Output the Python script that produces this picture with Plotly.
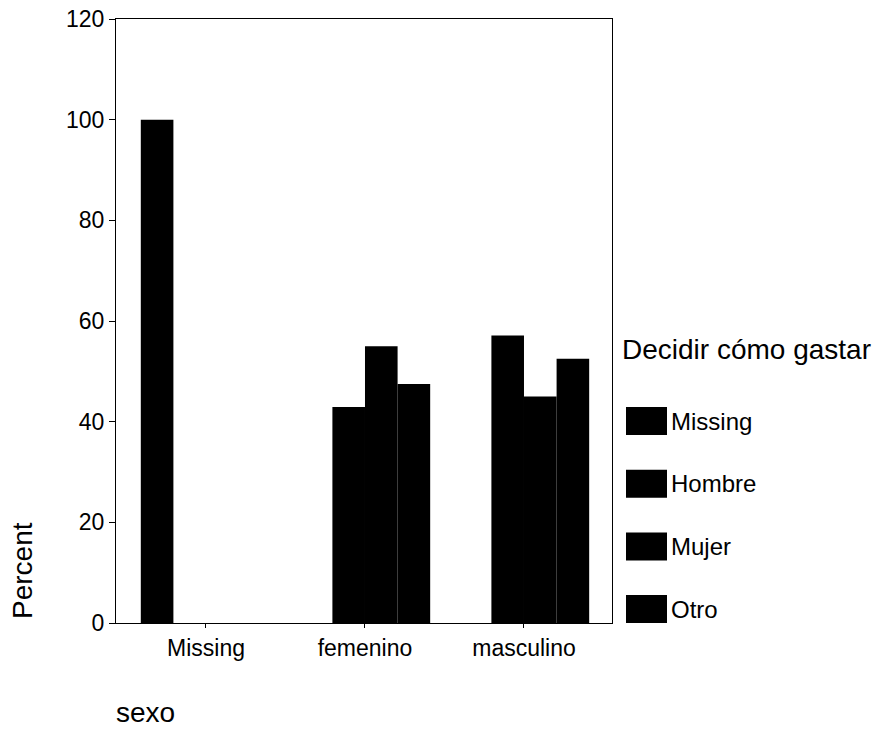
import plotly.graph_objects as go

# ---- data ----
sexo_categories = ["Missing", "femenino", "masculino"]
series_names = ["Missing", "Hombre", "Mujer", "Otro"]
pct_missing = [100, 0, 0]
pct_hombre = [0, 42.9, 57.1]
pct_mujer = [0, 55.0, 45.0]
pct_otro = [0, 47.5, 52.5]
y_ticks = [0, 20, 40, 60, 80, 100, 120]

series_values = [pct_missing, pct_hombre, pct_mujer, pct_otro]

W, H = 888, 733
PLOT_L, PLOT_R, PLOT_T, PLOT_B = 116, 612, 19, 623   # page pixels
ML, MT = PLOT_L, PLOT_T
MR, MB = W - PLOT_R, H - PLOT_B
PW = PLOT_R - PLOT_L
PH = PLOT_B - PLOT_T
FONT = "Liberation Sans, Arial, sans-serif"


def px_x(px):
    return (px - PLOT_L) / PW


def px_y(py):
    return (PLOT_B - py) / PH


fig = go.Figure()
for name, vals in zip(series_names, series_values):
    fig.add_trace(go.Bar(
        x=sexo_categories, y=vals, name=name,
        marker=dict(color="black", line=dict(width=0)),
        showlegend=False,
    ))

# legend drawn manually (large swatches like the original)
shapes = []
annotations = []
legend_top = 407
legend_step = 62.7
for i, name in enumerate(series_names):
    top = legend_top + i * legend_step
    bot = top + 28
    shapes.append(dict(
        type="rect", xref="paper", yref="paper",
        x0=px_x(626), x1=px_x(667), y0=px_y(bot), y1=px_y(top),
        fillcolor="black", line=dict(width=0),
    ))
    annotations.append(dict(
        text=name, xref="paper", yref="paper",
        x=px_x(669), y=px_y((top + bot) / 2),
        xanchor="left", yanchor="middle", showarrow=False,
        font=dict(family=FONT, size=24, color="black"),
    ))

annotations.append(dict(
    text="Decidir cómo gastar", xref="paper", yref="paper",
    x=px_x(620), y=px_y(349), xanchor="left", yanchor="middle",
    showarrow=False, font=dict(family=FONT, size=28, color="black"),
))
annotations.append(dict(
    text="Percent", xref="paper", yref="paper",
    x=px_x(22), y=px_y(571), xanchor="center", yanchor="middle",
    textangle=-90, showarrow=False,
    font=dict(family=FONT, size=28, color="black"),
))
annotations.append(dict(
    text="sexo", xref="paper", yref="paper",
    x=px_x(114), y=px_y(712), xanchor="left", yanchor="middle",
    showarrow=False, font=dict(family=FONT, size=28, color="black"),
))

fig.update_layout(
    width=W, height=H,
    margin=dict(l=ML, r=MR, t=MT, b=MB, pad=0, autoexpand=False),
    paper_bgcolor="white", plot_bgcolor="white",
    barmode="group", bargap=0.18, bargroupgap=0,
    showlegend=False,
    font=dict(family=FONT, color="black"),
    shapes=shapes, annotations=annotations,
)
fig.update_xaxes(
    range=[-0.566, -0.566 + PW / 159.0], automargin=False,
    showline=True, linecolor="black", linewidth=1, mirror=True,
    ticks="outside", ticklen=4, tickcolor="black",
    showgrid=False, zeroline=False,
    tickfont=dict(family=FONT, size=23, color="black"),
)
fig.update_yaxes(
    range=[0, 120], tickvals=y_ticks, automargin=False,
    showline=True, linecolor="black", linewidth=1, mirror=True,
    ticks="outside", ticklen=6, tickcolor="black",
    showgrid=False, zeroline=False,
    tickfont=dict(family=FONT, size=23, color="black"),
)

# remove the default 8px page margin so the figure fills the window exactly
fig.write_html(
    "out.html",
    config={"displayModeBar": False},
    post_script="document.body.style.margin='0px';document.body.style.overflow='hidden';",
)
